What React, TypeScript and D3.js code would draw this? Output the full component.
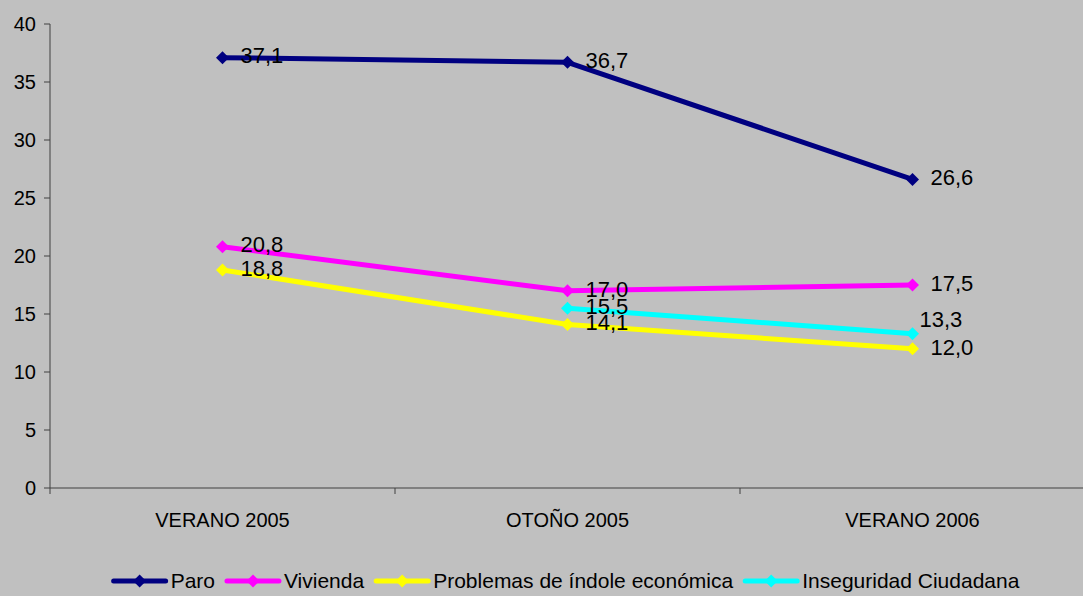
import React, { useEffect, useRef } from 'react';
import * as d3 from 'd3';

const categories = ['VERANO 2005', 'OTOÑO 2005', 'VERANO 2006'];
const seriesNames = ['Paro', 'Vivienda', 'Problemas de índole económica', 'Inseguridad Ciudadana'];
const paro = [37.1, 36.7, 26.6];
const vivienda = [20.8, 17.0, 17.5];
const problemas = [18.8, 14.1, 12.0];
const inseguridad = [null, 15.5, 13.3];
const colors = ['#000080', '#FF00FF', '#FFFF00', '#00FFFF'];
const yTicks = [0, 5, 10, 15, 20, 25, 30, 35, 40];

const W = 1083;
const H = 596;
const FONT = 'Arial, "Liberation Sans", sans-serif';

// Excel-style diamond marker (as wide as it is tall)
const diamondPath = (r: number) => `M0,${-r}L${r},0L0,${r}L${-r},0Z`;

const App: React.FC = () => {
  const ref = useRef<SVGSVGElement>(null);

  useEffect(() => {
    if (!ref.current) return;
    const svg = d3.select(ref.current);
    svg.selectAll('*').remove();

    const values = [paro, vivienda, problemas, inseguridad];
    const margin = { top: 24, right: -2, bottom: 108, left: 50 };

    svg.append('rect').attr('width', W).attr('height', H).attr('fill', '#C0C0C0');

    const x = d3.scaleBand().domain(categories).range([margin.left, W - margin.right]).padding(0);
    const y = d3.scaleLinear().domain([0, 40]).range([H - margin.bottom, margin.top]);
    const cx = (c: string) => x(c)! + x.bandwidth() / 2;

    // y axis
    const axisColor = '#404040';
    svg.append('line')
      .attr('x1', margin.left).attr('x2', margin.left)
      .attr('y1', y(40)).attr('y2', y(0))
      .attr('stroke', axisColor).attr('stroke-width', 1);
    yTicks.forEach(t => {
      svg.append('line')
        .attr('x1', margin.left - 6).attr('x2', margin.left)
        .attr('y1', y(t)).attr('y2', y(t))
        .attr('stroke', axisColor);
      svg.append('text')
        .attr('x', margin.left - 14).attr('y', y(t))
        .attr('dy', '0.35em').attr('text-anchor', 'end')
        .style('font-family', FONT).style('font-size', '20px')
        .text(t);
    });

    // x axis
    svg.append('line')
      .attr('x1', margin.left).attr('x2', W)
      .attr('y1', y(0)).attr('y2', y(0))
      .attr('stroke', axisColor);
    const bounds = categories.map(c => x(c)!).concat([x(categories[categories.length - 1])! + x.bandwidth()]);
    bounds.forEach(b => {
      svg.append('line')
        .attr('x1', b).attr('x2', b)
        .attr('y1', y(0)).attr('y2', y(0) + 6)
        .attr('stroke', axisColor);
    });
    categories.forEach(c => {
      svg.append('text')
        .attr('x', cx(c)).attr('y', y(0) + 39)
        .attr('text-anchor', 'middle')
        .style('font-family', FONT).style('font-size', '20px')
        .text(c);
    });

    const line = d3.line<[string, number | null]>()
      .defined(d => d[1] != null)
      .x(d => cx(d[0]))
      .y(d => y(d[1] as number));

    values.forEach((vals, si) => {
      const pts = categories.map((c, i) => [c, vals[i]] as [string, number | null]);
      svg.append('path')
        .attr('d', line(pts))
        .attr('fill', 'none')
        .attr('stroke', colors[si])
        .attr('stroke-width', 5)
        .attr('stroke-linejoin', 'round');
      pts.filter(p => p[1] != null).forEach(p => {
        svg.append('path')
          .attr('d', diamondPath(6.5))
          .attr('transform', `translate(${cx(p[0])},${y(p[1] as number)})`)
          .attr('fill', colors[si]);
      });
    });

    // data labels
    values.forEach((vals, si) => {
      categories.forEach((c, i) => {
        const v = vals[i];
        if (v == null) return;
        // Excel moved the last cyan label up-left to avoid the yellow one
        const shifted = si === 3 && i === 2;
        svg.append('text')
          .attr('x', cx(c) + (shifted ? 7 : 18))
          .attr('y', y(v) + (shifted ? -14 : -2))
          .attr('dy', '0.35em')
          .style('font-family', FONT).style('font-size', '22px')
          .attr('fill', '#000')
          .text(v.toFixed(1).replace('.', ','));
      });
    });

    // legend
    const ly = 581;
    const sample = 52;
    const fontSize = 21;
    const measure = svg.append('text').style('font-family', FONT).style('font-size', `${fontSize}px`);
    const widths = seriesNames.map(n => {
      measure.text(n);
      return (measure.node() as SVGTextElement).getComputedTextLength();
    });
    measure.remove();
    const gapText = 5;
    const gapItem = 12;
    const total = d3.sum(widths) + seriesNames.length * (sample + gapText) + (seriesNames.length - 1) * gapItem;
    let lx = (W - total) / 2 + 25;
    seriesNames.forEach((n, i) => {
      svg.append('line')
        .attr('x1', lx).attr('x2', lx + sample)
        .attr('y1', ly).attr('y2', ly)
        .attr('stroke', colors[i]).attr('stroke-width', 5)
        .attr('stroke-linecap', 'round');
      svg.append('path')
        .attr('d', diamondPath(6.5))
        .attr('transform', `translate(${lx + sample / 2},${ly})`)
        .attr('fill', colors[i]);
      svg.append('text')
        .attr('x', lx + sample + gapText).attr('y', ly)
        .attr('dy', '0.35em')
        .style('font-family', FONT).style('font-size', `${fontSize}px`)
        .text(n);
      lx += sample + gapText + widths[i] + gapItem;
    });
  }, []);

  return (
    <svg
      ref={ref}
      width={W}
      height={H}
      style={{ position: 'absolute', left: 0, top: 0, display: 'block' }}
    />
  );
};

export default App;
